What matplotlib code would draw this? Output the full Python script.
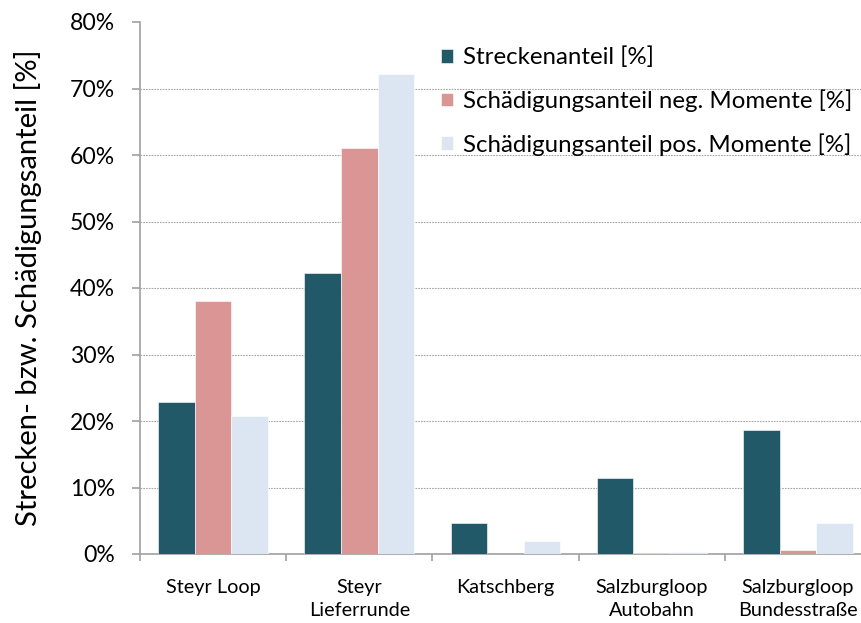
import matplotlib
matplotlib.use("Agg")
import matplotlib.pyplot as plt
import numpy as np
from matplotlib.ticker import FixedLocator, PercentFormatter

categories = ["Steyr Loop", "Steyr\nLieferrunde", "Katschberg", "Salzburgloop\nAutobahn", "Salzburgloop\nBundesstraße"]
series_names = ["Streckenanteil [%]", "Schädigungsanteil neg. Momente [%]", "Schädigungsanteil pos. Momente [%]"]
strecken = [22.8, 42.3, 4.6, 11.5, 18.6]
neg_momente = [38.0, 61.0, 0.0, 0.1, 0.6]
pos_momente = [20.7, 72.2, 2.0, 0.35, 4.6]
colors = ["#225968", "#D99694", "#DCE6F2"]
yticks = [0, 10, 20, 30, 40, 50, 60, 70, 80]

plt.rcParams['font.family'] = ['Lato', 'DejaVu Sans']

fig = plt.figure(figsize=(8.62, 6.23), dpi=100)
ax = fig.add_axes([140/862, 1 - 554/623, 731/862, 532/623])

x = np.arange(len(categories))
w = 0.25
for i, (vals, name, c) in enumerate(zip([strecken, neg_momente, pos_momente], series_names, colors)):
    ax.bar(x + (i - 1) * w, vals, width=w, color=c, label=name, edgecolor="white", linewidth=0.4, zorder=3)

ax.set_xlim(-0.5, len(categories) - 0.5)
ax.set_ylim(0, 80)
ax.yaxis.set_major_locator(FixedLocator(yticks))
ax.yaxis.set_major_formatter(PercentFormatter(decimals=0))
for v in yticks[1:-1]:
    ax.axhline(v, color="#A6A6A6", linestyle=(0, (1.5, 1)), linewidth=0.8, zorder=1)

ax.set_xticks(np.arange(len(categories) + 1) - 0.5)
ax.set_xticklabels([])
ax.set_xticks(x, minor=True)
ax.set_xticklabels(categories, minor=True, fontsize=14.3, linespacing=1.45)
ax.tick_params(axis="x", which="minor", length=0, pad=18)
ax.tick_params(axis="x", which="major", length=5, color="#A0A0A0", width=1.2)
ax.tick_params(axis="y", length=6, color="#A0A0A0", width=1.2, labelsize=16.6, pad=12)

for s in ["top", "right"]:
    ax.spines[s].set_visible(False)
for s in ["left", "bottom"]:
    ax.spines[s].set_color("#A0A0A0")
    ax.spines[s].set_linewidth(1.2)

ax.set_ylabel("Strecken- bzw. Schädigungsanteil [%]", fontsize=21, labelpad=20)

leg = ax.legend(loc="upper left", bbox_to_anchor=((431 - 140) / 731, 1 - (37 - 22) / 532),
                frameon=False, fontsize=17.3, handlelength=0.5, handleheight=0.5,
                handletextpad=0.45, labelspacing=0.88, borderaxespad=0)

fig.savefig("out.png", dpi=100)
